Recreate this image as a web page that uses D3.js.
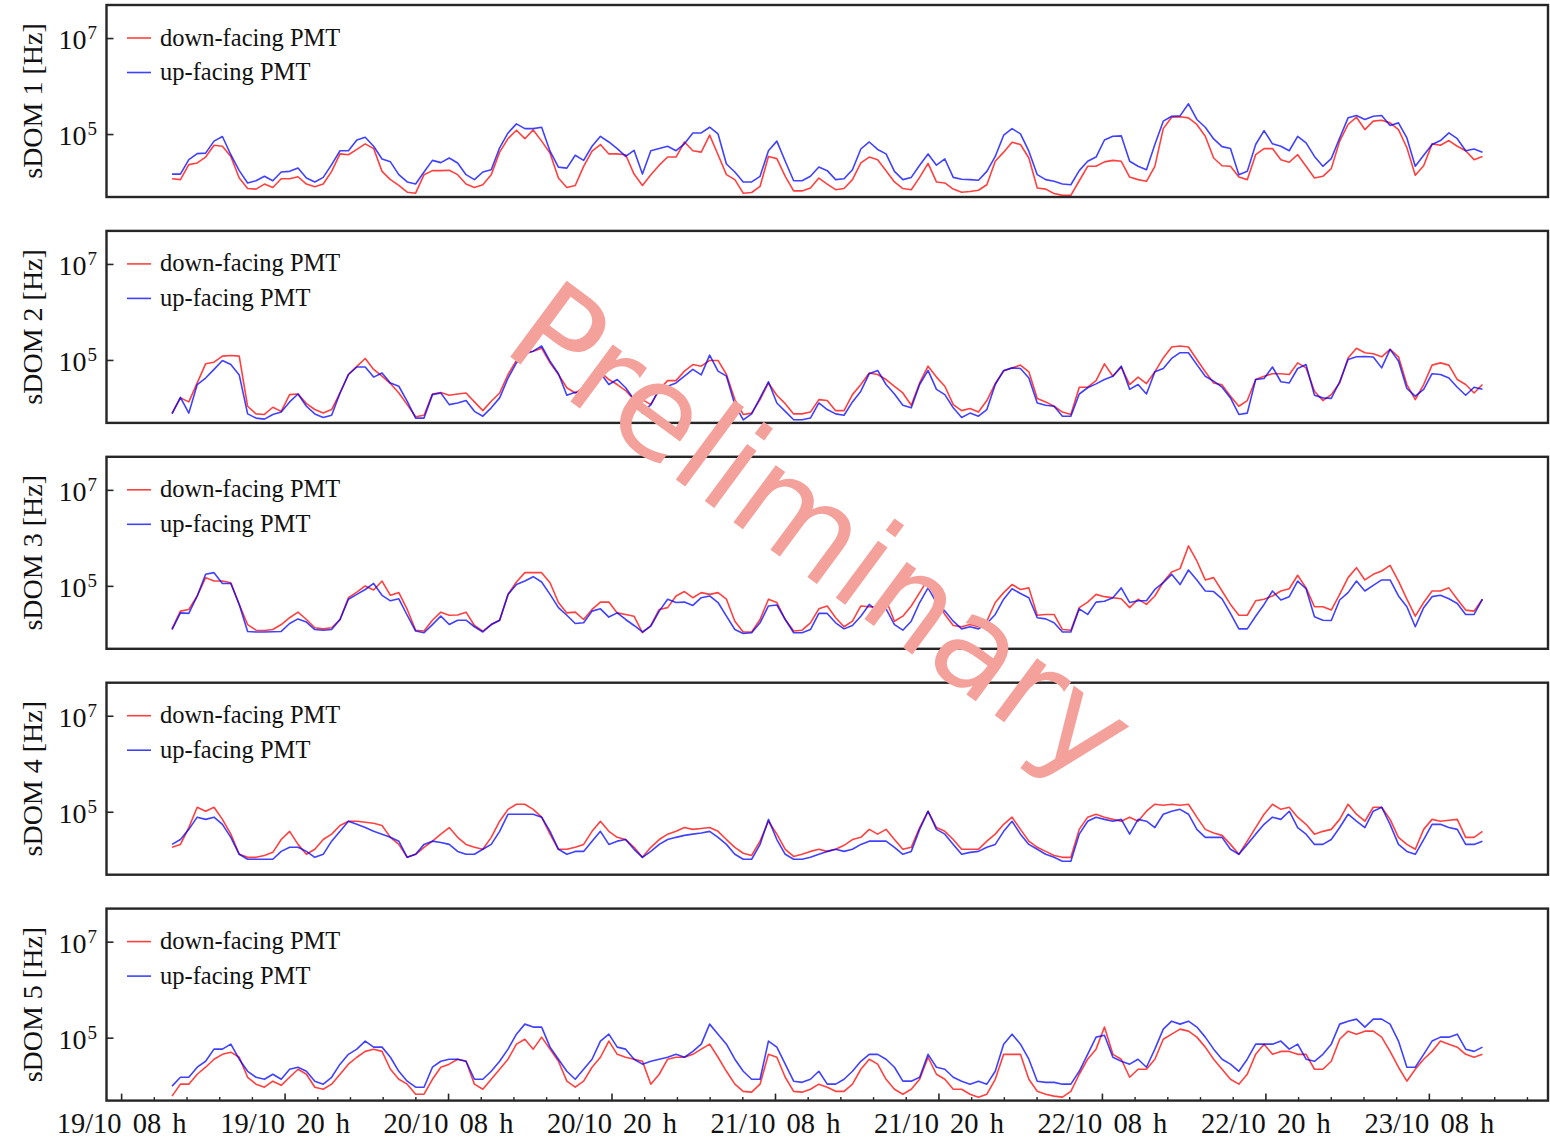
<!DOCTYPE html>
<html>
<head>
<meta charset="utf-8">
<script src="https://cdn.jsdelivr.net/npm/d3@7"></script>
<style>
  body { margin: 0; background: #ffffff; }
  svg { display: block; }
</style>
</head>
<body>
<svg id="chart" width="1550" height="1140"></svg>
<script>
// Sampling grid: one averaged rate every 37 minutes
const startTime = "2023-10-19T11:42:00Z";
const stepMinutes = 37;

// Rates in kHz for each sDOM (down-facing and up-facing PMT)
const down1 = [12.0,11.5,23.6,25.6,34,60,57,35,12.4,7.5,
7.3,9.3,7.9,12,12,13.2,9.3,8.2,9.3,17.1,
39.5,38,49,64,51,17.1,11.5,8.7,6.3,6.0,
14.6,17.7,17.7,18,14.6,9.3,7.9,9.0,14.6,43,
82,123,82,125,73,41,12.4,7.9,8.7,21.8,
45,62,39.5,39.5,38,15,8.7,14.6,23,34,
34,70,46,43,97,38,14.6,11.5,6.0,6.2,
8.3,35,31.5,13.5,6.7,6.7,7.7,12.4,
9.3,7.1,7.5,11.5,25.6,34,30,17.7,10.3,7.5,
7.1,12.8,25,10.3,9.8,7.3,6.3,6.5,6.9,9.0,
27.7,43,69,62,32.5,7.7,7.3,5.9,5.4,5.4,
10.9,21.8,21.8,27,29,27.7,13,11.5,10.6,21.8,
133,230,234,223,162,92,32.5,22.4,21.8,13,
11.5,38,51,51,30,26.5,38,21.8,12.4,13.5,
19.5,73,162,230,127,190,198,175,127,53,
14.2,22.4,64,60,75,57,46,30,35];
const up1 = [15.0,15.0,30,40,41,73,91,38,17.7,9.8,
10.9,13.5,10.9,16.6,17.1,20,12.4,10.3,12.8,23.6,
46,46,77,88,57,31,27,14.6,10.3,9.3,
16.6,29,26,32.5,25.6,14.6,11.5,16.6,18.5,53,
108,167,133,133,142,45,21,20,37,29,
57,92,70,51,35,47,15,46,51,57,
46,64,108,108,142,103,24.4,16.6,10.3,10.3,
13.5,46,73,27.7,10.9,10.9,13.5,21,
17.7,11.5,12.0,18.5,50,70,49,39.5,17.1,11.5,
12.8,23,39.5,23,31,12.8,11.7,11.5,11.2,17.1,
35,97,133,103,45,14.6,11.5,10.6,9.3,9.0,
17.7,27.7,34,77,92,94,27.7,21.8,18.5,62,
190,241,245,437,206,142,81,56,51,14.6,
17.1,62,121,64,57,46,92,67,35,21.8,
31.5,85,223,249,206,241,249,154,175,85,
21.8,37,62,75,108,82,46,50,43];

const down2 = [8.0,16.6,13.7,34,85,92,123,127,123,11.1,
7.7,7.5,10.6,8.7,19.4,20,12.6,9.5,8.0,9.5,
21,51,75,110,65,47,33,21,12,6.7,
7.2,20,21.5,18.8,20,21,13.7,9.0,14.1,21,
51,100,145,156,180,89,51,27,21,27,
51,58,40,31.5,23.6,15.3,15.3,12,25,38,
38,60,82,76,100,100,51,15.3,7.5,8.0,
15.3,34,18.8,12.6,7.7,7.7,8.4,15.3,
14.6,9.0,9.0,19.4,31.5,55,51,40,29,21,
11.7,34,76,45,29,12,9.0,10,8.4,14.6,
33,60,70,80,58,16.2,13.7,11.1,8.4,7.5,
27.7,27.7,38,85,47,73,31.5,45,33,58,
113,190,200,190,105,58,34,31,18,11.1,
14.6,40,47,53,53,51,89,70,22.9,14.6,
19.4,34,113,180,145,138,119,170,119,31.5,
15.3,31.5,80,89,80,40,31.5,21,31.5];
const up2 = [7.7,17.1,8.0,31.5,43,65,100,82,50,7.7,
6.3,6.0,7.5,8.4,13.7,20,11.1,7.7,6.5,7.2,
21,51,73,73,45,55,34,29,14.1,6.3,
6.3,19.4,21,12,13,14.6,8.7,6.9,10.3,16.6,
43,89,138,156,200,97,53,18.8,21.8,21,
43,55,31.5,40,27,15.3,8.0,12,25,29,
34,47,65,50,129,60,47,12,5.8,7.7,
16.6,36,13,8.7,5.8,5.8,6.3,13,
9.5,7.7,7.2,13.7,22.9,53,62,31.5,20,11.7,
10.3,31.5,62,25,19.4,10.3,6.5,8.0,6.9,9.5,
31.5,62,70,68,43,13,11.7,11.1,6.9,6.9,
20,27,32.5,40,47,76,25,31.5,20,58,
68,110,145,145,82,47,37,27.7,16.6,7.5,
8.0,40,42,73,36,34,68,82,18.8,16.6,
16.2,36,105,119,121,118,70,170,97,26,
18,25,53,51,43,27.7,18.8,27.7,25];

const down3 = [13,30.5,33,63,152,129,129,119,42,16,
12.2,12,12.6,16,22.2,29,20.4,13.7,13,13.7,
20.4,58,76,102,84,129,65,74,33,12.2,
11.7,19.7,29,25,25.3,29,15.3,11.7,16,19.7,
68,123,193,193,193,119,46,28,29,20.4,
33,47,47,28,26,23.9,10.8,15.3,33,36,
63,78,58,74,68,74,54,18.8,11.2,11.2,
20.4,54,46,20.4,11.7,12.2,17.4,34,
39,22.2,14.4,18.8,39,37.5,36,52,18.8,23.9,
39,74,141,50,26,15.3,14.4,16,14.4,18.8,
46,74,109,86,93,25,26,26,12.6,12.2,
36,47,68,61,58,55,36,54,42,63,
123,200,234,695,338,136,152,80,42,25,
25,50,54,63,80,89,170,93,37.5,37.5,
32,68,152,245,136,178,209,273,129,54,
23.9,46,80,80,93,54,32,30.5,54];
const up3 = [12.6,28,27.3,63,178,193,115,115,42,11.5,
11.2,11.2,11.3,11.5,16.8,21,18,12.6,12.2,12.6,
20.4,54,68,86,115,65,50,55,25,11.7,
10.8,16,23.9,16,19.7,19.7,14.4,11.2,16,19.7,
68,109,129,159,123,68,36,25,16.8,17.4,
30.5,34,22.9,28,20.4,15.3,11.2,14.9,30.5,54,
46,47,40,58,63,46,23.9,12.6,10.4,10.8,
17.4,39,41,20.4,10.8,10.8,12.6,27.3,
27.3,17.4,13,15.3,23.9,42,30.5,34,16,12.2,
18.8,46,93,46,30.5,18.8,13,14.4,13,16.8,
26,54,89,71,58,22.2,21,17.4,11.2,11.2,
34,26,47,49,58,93,46,50,50,86,
119,178,109,219,136,80,78,55,27.3,13,
13,23.9,42,80,52,61,129,89,23.3,19.7,
19.4,52,74,129,80,105,136,136,63,37.5,
14.4,36,61,65,55,44,26,26,54];

const down4 = [18.6,21.4,48,127,105,127,71,35,13.3,11.5,
11.5,12.6,14.6,27,40,21.4,13.3,16.9,27,35,
53,65,65,62,59,53,30,21.4,11.5,13.3,
18.6,25,35,48,30,21.4,18.6,16.9,30,65,
115,147,147,115,79,35,16.9,16.9,18.6,21.4,
40,65,40,30,27,18.6,11.5,18.6,27,35,
40,48,44,46,48,40,27,18.6,14,12.6,
25,65,35,16.9,12,13.3,15.3,16.9,15.3,16.9,
20.5,27,30,44,35,44,27,16.9,18.6,48,
105,48,40,27,16.9,16.9,16.9,25,35,56,
79,44,25,18.6,15.3,12.6,11.5,11.5,44,79,
91,79,71,65,79,65,105,147,140,147,
140,147,79,44,37,33,21.4,13.3,25,48,
91,147,115,127,79,56,35,40,44,71,
147,91,65,127,127,71,30,21.4,16.9,44,
71,65,68,71,30,30,40];
const up4 = [21.4,27,44,79,71,79,56,30,13.3,10.5,
10.5,10.5,10.5,15.3,18.6,18.6,15.3,11.5,13.3,25,
40,65,56,48,40,35,30,25,11.5,13.3,
21.4,25,23.5,21.4,15.3,13.3,13.3,16.9,21.4,40,
91,91,91,91,79,40,16.9,13.3,15.3,15.3,
25,40,21.4,25,27,16.9,11.5,15.3,21.4,27,
30,33,35,37,40,30,21.4,13.3,10.5,10.5,
21.4,71,27,13.3,10.5,10.5,11.5,13.3,15.3,16.9,
15.3,16.9,21.4,25,25,25,18.6,13.3,15.3,44,
105,44,35,21.4,13.3,14.6,15.3,18.6,21.4,40,
65,35,21.4,16.9,13.3,11.5,9.5,9.5,35,65,
79,71,65,71,35,71,65,48,91,105,
115,91,44,30,30,30,16.9,13.3,21.4,35,
56,79,71,105,48,35,21.4,21.4,27,48,
91,65,48,105,127,56,21.4,15.3,13.3,27,
56,56,48,44,21.4,21.4,25];

const down5 = [6.2,11,11,17.7,24.8,36.4,46,51,40,15.3,
11,9.5,12.7,10.4,15.3,22.5,17.7,9.5,8.6,11,
17.7,28.7,40,53,59,53,22.5,13.9,11,6.8,
6.8,13.9,24.8,28.7,36.4,33,11,8.6,13.9,22.5,
36.4,75,95,59,105,59,33,12.7,9.5,12.7,
24.8,40,87,46,40,36.4,33,11,17.7,36.4,
40,40,46,59,75,40,20.4,11,7.8,7.5,
11,46,40,15.3,7.8,7.5,8.6,11,9.5,7.8,
7.8,11,22.5,36.4,28.7,13.9,8.6,6.8,8.6,13.9,
40,17.7,13.9,8.6,8.6,6.8,5.9,6.8,13.9,46,
46,46,13.9,7.8,6.8,6.2,5.9,7.8,17.7,36.4,
59,170,46,36.4,15.3,22.5,22.5,36.4,95,121,
154,140,105,65,36.4,22.5,13.9,11,17.7,46,
75,46,53,53,46,46,22.5,22.5,33,95,
140,121,140,140,105,53,24.8,12.7,22.5,36.4,
53,87,75,65,46,40,46];
const up5 = [10,15.3,15.3,24.8,33,59,59,75,36.4,20.4,
15.3,13.9,17.7,13.9,22.5,24.8,20.4,12.7,11,15.3,
28.7,46,59,87,65,65,40,20.4,12.7,9.5,
9.5,24.8,33,36.4,36.4,33,13.9,13.9,20.4,33,
59,121,196,170,170,65,36.4,20.4,13.9,22.5,
36.4,87,121,65,59,36.4,28.7,33,36.4,40,
46,40,53,75,196,121,75,36.4,20.4,13.9,
13.9,87,65,28.7,12.7,12,13.9,20.4,11,11,
13.9,20.4,33,46,46,36.4,24.8,12.7,12.7,15.3,
46,24.8,22.5,15.3,12.7,11,12.7,11,20.4,75,
121,75,36.4,12.7,12,12,11,11,20.4,46,
105,115,40,33,28.7,36.4,24.8,59,154,226,
196,226,170,105,59,36.4,28.7,20.4,36.4,75,
75,75,87,59,75,36.4,33,46,75,196,
226,249,170,249,249,196,87,24.8,24.8,46,
87,105,105,121,59,53,65];

const panelLabels = ["sDOM 1 [Hz]", "sDOM 2 [Hz]", "sDOM 3 [Hz]", "sDOM 4 [Hz]", "sDOM 5 [Hz]"];
const seriesLabels = ["down-facing PMT", "up-facing PMT"];
const seriesColors = ["#ff0000", "#0000ff"];
const yTickValues = [1e5, 1e7];
const yTickExponents = ["5", "7"];
const xTickTimes = ["2023-10-19T08:00:00Z", "2023-10-19T20:00:00Z", "2023-10-20T08:00:00Z",
  "2023-10-20T20:00:00Z", "2023-10-21T08:00:00Z", "2023-10-21T20:00:00Z",
  "2023-10-22T08:00:00Z", "2023-10-22T20:00:00Z", "2023-10-23T08:00:00Z"];
const xTickLabels = ["19/10 08 h", "19/10 20 h", "20/10 08 h", "20/10 20 h", "21/10 08 h",
  "21/10 20 h", "22/10 08 h", "22/10 20 h", "23/10 08 h"];
const minorPerMajor = 5;

const panels = [
  { label: panelLabels[0], down: down1, up: up1 },
  { label: panelLabels[1], down: down2, up: up2 },
  { label: panelLabels[2], down: down3, up: up3 },
  { label: panelLabels[3], down: down4, up: up4 },
  { label: panelLabels[4], down: down5, up: up5 }
];

// Layout
const plotLeft = 106.5, plotRight = 1548;
const panelTop0 = 5, panelStep = 225.9, panelHeight = 192;
const serif = "'Liberation Serif', 'DejaVu Serif', serif";
const frameColor = "#262626";

const svg = d3.select("#chart");
svg.append("rect").attr("width", 1550).attr("height", 1140).attr("fill", "#ffffff");

const t0 = Date.parse(startTime);
const times = down1.map((_, i) => new Date(t0 + i * stepMinutes * 60000));
const span = times[times.length - 1] - times[0];
const x = d3.scaleUtc()
  .domain([new Date(+times[0] - 0.05 * span), new Date(+times[times.length - 1] + 0.05 * span)])
  .range([plotLeft, plotRight]);

panels.forEach((p, k) => {
  const top = panelTop0 + panelStep * k;
  const bottom = top + panelHeight;
  const y = d3.scaleLog().domain([5e3, 5e7]).range([bottom, top]);
  const g = svg.append("g");

  const line = d3.line()
    .x((d, i) => x(times[i]))
    .y(d => y(d * 1e3));

  [p.down, p.up].forEach((series, s) => {
    g.append("path")
      .datum(series)
      .attr("d", line)
      .attr("fill", "none")
      .attr("stroke", seriesColors[s])
      .attr("stroke-opacity", 0.75)
      .attr("stroke-width", 1.6)
      .attr("stroke-linejoin", "round");
  });

  // frame
  g.append("rect")
    .attr("x", plotLeft).attr("y", top)
    .attr("width", plotRight - plotLeft).attr("height", panelHeight)
    .attr("fill", "none").attr("stroke", frameColor).attr("stroke-width", 2.4);

  // y ticks (inward) and labels
  yTickValues.forEach((v, j) => {
    const yy = y(v);
    g.append("line")
      .attr("x1", plotLeft).attr("x2", plotLeft + 7)
      .attr("y1", yy).attr("y2", yy)
      .attr("stroke", frameColor).attr("stroke-width", 1.6);
    const t = g.append("text")
      .attr("x", 97).attr("y", yy + 10.5)
      .attr("text-anchor", "end")
      .style("font-family", serif).style("font-size", "28px").attr("fill", "#111");
    t.append("tspan").text("10");
    t.append("tspan").attr("dx", 1).attr("dy", -10).style("font-size", "19px").text(yTickExponents[j]);
  });

  // y axis label
  g.append("text")
    .attr("transform", `translate(42,${(top + bottom) / 2}) rotate(-90)`)
    .attr("text-anchor", "middle")
    .style("font-family", serif).style("font-size", "28px").attr("fill", "#111")
    .text(p.label);

  // legend
  seriesLabels.forEach((lab, s) => {
    const ly = top + 33 + 34.5 * s;
    g.append("line")
      .attr("x1", 127).attr("x2", 151).attr("y1", ly).attr("y2", ly)
      .attr("stroke", seriesColors[s]).attr("stroke-opacity", 0.75).attr("stroke-width", 1.6);
    g.append("text")
      .attr("x", 160).attr("y", ly + 7.5)
      .style("font-family", serif).style("font-size", "24.5px").attr("fill", "#111")
      .text(lab);
  });

  // time axis on the bottom panel
  if (k === panels.length - 1) {
    const majors = xTickTimes.map(s => new Date(s));
    const stepMs = (majors[1] - majors[0]) / minorPerMajor;
    const minors = [];
    const [d0, d1] = x.domain();
    for (let t = +majors[0] - stepMs; t >= +d0; t -= stepMs) minors.push(new Date(t));
    majors.forEach(m => {
      for (let j = 1; j < minorPerMajor; j++) {
        const t = +m + j * stepMs;
        if (t <= +d1) minors.push(new Date(t));
      }
    });
    minors.forEach(t => {
      g.append("line")
        .attr("x1", x(t)).attr("x2", x(t))
        .attr("y1", bottom).attr("y2", bottom - 3.5)
        .attr("stroke", frameColor).attr("stroke-width", 1.4);
    });
    majors.forEach((t, j) => {
      g.append("line")
        .attr("x1", x(t)).attr("x2", x(t))
        .attr("y1", bottom).attr("y2", bottom - 7)
        .attr("stroke", frameColor).attr("stroke-width", 1.6);
      g.append("text")
        .attr("x", x(t)).attr("y", bottom + 32.5)
        .attr("text-anchor", "middle")
        .style("font-family", serif).style("font-size", "28.5px")
        .style("word-spacing", "4px").attr("fill", "#111")
        .text(xTickLabels[j]);
    });
  }
});

// diagonal watermark across the panels
svg.append("text")
  .attr("transform", "translate(822,531) rotate(36.5)")
  .attr("text-anchor", "middle")
  .attr("dy", "0.35em")
  .style("font-family", "'DejaVu Sans', sans-serif")
  .style("font-size", "130px")
  .attr("fill", "#f4a19b")
  .text("Preliminary");
</script>
</body>
</html>
